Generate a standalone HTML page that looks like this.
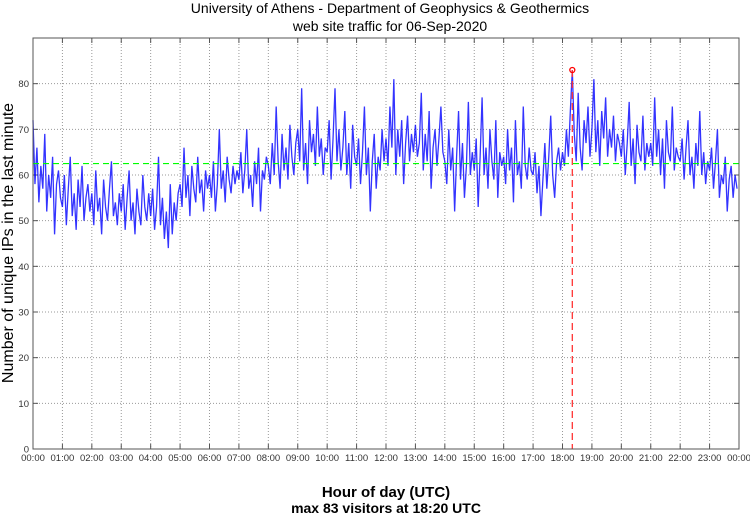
<!DOCTYPE html>
<html><head><meta charset="utf-8"><style>
html,body{margin:0;padding:0;background:#fff;}
svg{display:block;font-family:"Liberation Sans",sans-serif;}
</style></head><body>
<svg id="chart" width="750" height="515" viewBox="0 0 750 515" xmlns="http://www.w3.org/2000/svg">
<text x="390" y="13" font-size="14" text-anchor="middle">University of Athens - Department of Geophysics &amp; Geothermics</text>
<text x="390" y="31" font-size="14" text-anchor="middle">web site traffic for 06-Sep-2020</text>
<text transform="translate(13,243) rotate(-90)" font-size="16" text-anchor="middle">Number of unique IPs in the last minute</text>
<text x="386" y="497" font-size="15" font-weight="bold" text-anchor="middle">Hour of day (UTC)</text>
<text x="386" y="513" font-size="14" font-weight="bold" text-anchor="middle">max 83 visitors at 18:20 UTC</text>
<g id="grid"></g>
<g id="series"></g>
<g id="annot"></g>
<rect x="33" y="38" width="706" height="411" fill="none" stroke="#555" stroke-width="1"/>
</svg>
<script>
const stepMinutes = 4;
const hourLabels = ["00:00","01:00","02:00","03:00","04:00","05:00","06:00","07:00","08:00","09:00","10:00","11:00","12:00","13:00","14:00","15:00","16:00","17:00","18:00","19:00","20:00","21:00","22:00","23:00","00:00"];
const yTicks = [0,10,20,30,40,50,60,70,80];
const meanValue = 62.5;
const maxValue = 83;
const maxMinute = 18*60+20;
const visitors = [
72,58,66,54,62,57,69,52,60,55,64,47,58,61,55,
53,60,49,57,64,51,56,48,59,53,62,50,55,58,52,
56,49,61,52,55,47,59,53,50,57,63,51,54,49,56,
52,58,48,55,61,50,54,47,57,52,49,60,53,50,56,
51,57,48,53,64,49,55,46,52,44,58,47,54,50,56,
58,53,66,55,60,51,62,57,54,64,56,59,52,61,57,
60,55,63,52,58,70,57,61,54,64,59,56,62,58,61,
59,65,56,61,70,57,60,53,63,58,66,52,61,59,64,
62,58,67,60,75,63,57,69,61,66,59,71,64,60,67,
70,63,79,61,67,58,72,65,69,62,75,64,68,60,66,
65,72,59,68,79,63,70,61,66,74,60,67,57,71,64,
62,68,58,65,75,60,66,52,63,69,57,64,61,70,63,
68,62,75,66,81,60,70,64,72,58,67,73,63,69,65,
71,64,67,78,61,69,63,74,57,66,70,62,68,75,65,
63,58,70,61,66,52,64,74,59,67,55,62,76,60,65,
61,68,53,64,77,60,66,57,70,63,59,72,55,65,62,
64,58,70,61,66,54,72,60,63,57,75,62,59,66,61,
60,65,56,62,51,59,67,57,64,73,60,55,63,66,61,
65,62,70,64,74,83,69,63,78,66,61,72,67,75,64,
70,81,65,72,62,74,68,77,64,70,66,73,63,69,67,
64,70,60,67,76,62,68,58,71,65,63,73,61,67,64,
67,62,77,64,70,60,68,57,72,65,63,75,61,66,64,
63,68,59,66,72,60,64,57,67,62,74,60,65,58,63,
61,66,57,63,70,55,60,58,64,52,59,62,55,60,57
];
const NS="http://www.w3.org/2000/svg";
const L=33,R=739,T=38,B=449;
const xScale=m=>L+(R-L)*m/1440;
const yScale=v=>B-(B-T)*v/90;
function mk(tag,attrs,parent){const e=document.createElementNS(NS,tag);for(const k in attrs)e.setAttribute(k,attrs[k]);parent.appendChild(e);return e;}
const grid=document.getElementById('grid');
hourLabels.forEach((lab,i)=>{
  const x=xScale(i*60);
  if(i>0&&i<24){const g=mk('line',{x1:x,x2:x,y1:T,y2:B,stroke:'#999','stroke-dasharray':'1,2'},grid);
  
  }
  const t1=mk('line',{x1:x,x2:x,y1:B,y2:B-5,stroke:'#555'},grid);
  
  
  const t2=mk('line',{x1:x,x2:x,y1:T,y2:T+5,stroke:'#555'},grid);
  
  
  const tx=mk('text',{x:x,y:461,'font-size':9.5,'text-anchor':'middle',fill:'#333'},grid);
  tx.textContent=lab;
  
  
});
yTicks.forEach(v=>{
  const y=yScale(v);
  if(v>0){const g=mk('line',{x1:L,x2:R,y1:y,y2:y,stroke:'#999','stroke-dasharray':'1,2'},grid);
  
  }
  const t1=mk('line',{x1:L,x2:L+5,y1:y,y2:y,stroke:'#555'},grid);
  
  
  const t2=mk('line',{x1:R,x2:R-5,y1:y,y2:y,stroke:'#555'},grid);
  
  
  const tx=mk('text',{x:L-4,y:y+3.5,'font-size':9.5,'text-anchor':'end',fill:'#333'},grid);
  tx.textContent=v;
  
  
});
const series=document.getElementById('series');
const pts=visitors.map((v,i)=>xScale(i*stepMinutes).toFixed(2)+','+yScale(v).toFixed(2)).join(' ');
const pl=mk('polyline',{points:pts,fill:'none',stroke:'#0000ff','stroke-width':1.3,'stroke-opacity':0.8},series);


const annot=document.getElementById('annot');
const mean=mk('line',{x1:L,x2:R,y1:yScale(meanValue),y2:yScale(meanValue),stroke:'#00ff00','stroke-width':1.2,'stroke-dasharray':'6,4'},annot);


const mx=xScale(maxMinute);
const ml=mk('line',{x1:mx,x2:mx,y1:yScale(maxValue),y2:B,stroke:'#ff3333','stroke-dasharray':'7,4','stroke-width':1.3},annot);


const mc=mk('circle',{cx:mx,cy:yScale(maxValue),r:2.5,fill:'none',stroke:'#ff0000','stroke-width':1.3},annot);


</script>
</body></html>
